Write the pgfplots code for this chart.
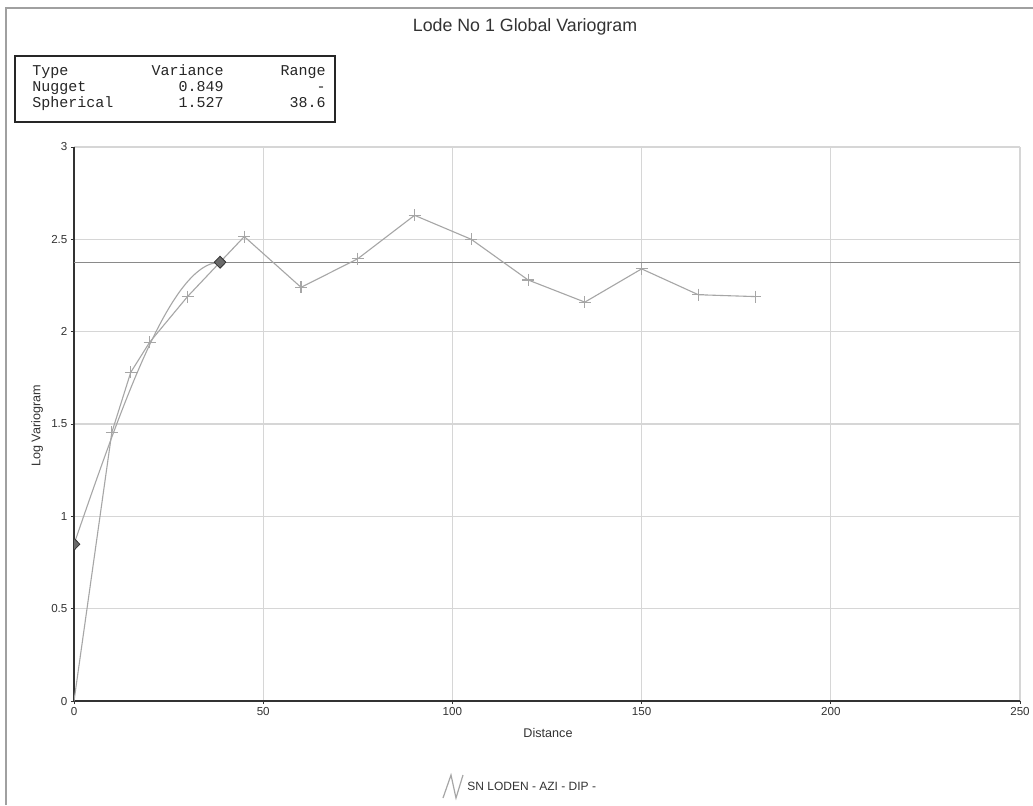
\documentclass[border=0pt]{standalone}
\usepackage{pgfplots}
\pgfplotsset{compat=1.18}
\usepackage{fontspec}
\setmainfont{Liberation Sans}
\newfontfamily\monofont{Liberation Mono}
\definecolor{gridc}{HTML}{D6D6D6}
\definecolor{datac}{HTML}{A6A6A6}
\definecolor{sillc}{HTML}{8A8A8A}
\definecolor{txtc}{HTML}{333333}
\definecolor{framec}{HTML}{A0A0A0}
\definecolor{diamc}{HTML}{6A6A6A}
\begin{document}
\begin{tikzpicture}
\useasboundingbox (-37pt,-52pt) rectangle (479.5pt,350.5pt);
\fill[white] (-37pt,-52pt) rectangle (479.5pt,350.5pt);
\begin{axis}[
  at={(0,0)}, anchor=south west,
  scale only axis, width=473pt, height=277pt,
  xmin=0, xmax=250, ymin=0, ymax=3,
  xtick={0,50,...,250}, ytick={0,0.5,...,3},
  grid=major, grid style={gridc, line width=0.55pt},
  axis x line*=bottom, axis y line*=left,
  axis line style={txtc, line width=0.9pt, -},
  tick style={txtc, line width=0.5pt},
  tick align=outside, major tick length=1.6pt,
  ticklabel style={font=\fontsize{5.8}{7}\selectfont, text=txtc},
  xticklabel style={inner sep=1.5pt},
  yticklabel style={inner sep=1.5pt},
  /pgf/number format/assume math mode=true,
  clip marker paths=true,
]
% sill
\addplot[sillc, line width=0.65pt] coordinates {(0,2.376) (250,2.376)};
% spherical model
\addplot[datac, line width=0.55pt, smooth] coordinates {
(0,0.849) (2,0.9676) (4,1.0855) (6,1.2022) (8,1.3169) (10,1.4291) (12,1.5381)
(14,1.6433) (16,1.7441) (18,1.8397) (20,1.9296) (22,2.0131) (24,2.0896)
(26,2.1585) (28,2.2191) (30,2.2707) (32,2.3128) (34,2.3447) (36,2.3658) (38.6,2.376)};
% experimental variogram
\addplot[datac, line width=0.55pt, mark=+, mark size=3pt, mark indices={2,3,...,15},
  mark options={datac, line width=0.55pt}] coordinates {
(0,0) (10,1.455) (15,1.78) (20,1.943) (30,2.19) (45,2.515) (60,2.24) (75,2.395)
(90,2.63) (105,2.5) (120,2.28) (135,2.16) (150,2.34) (165,2.2) (180,2.19)};
% model points
\addplot[only marks, mark=diamond*, mark size=3pt,
  mark options={xscale=1.3, fill=diamc, draw=black!80, line width=0.4pt}]
  coordinates {(0,0.849) (38.6,2.376)};
\end{axis}
\begin{scope}[x=0.5pt,y=-0.5pt,shift={(-37pt,350.5pt)}]
\draw[framec, line width=0.6pt] (6,805) -- (6,8) -- (1033,8);
\node[text=txtc, font=\fontsize{8.9}{10}\selectfont] at (525,27) {Lode No 1 Global Variogram};
\draw[black!85, line width=1pt] (15,56) rectangle (335,122);
\begin{scope}[every node/.style={inner sep=0pt, text=black!85, font=\monofont\fontsize{7.5}{8}\selectfont}]
\node[anchor=base west] at (32,75) {Type};
\node[anchor=base east] at (224,75) {Variance};
\node[anchor=base east] at (326,75) {Range};
\node[anchor=base west] at (32,91) {Nugget};
\node[anchor=base east] at (224,91) {0.849};
\node[anchor=base east] at (326,91) {-};
\node[anchor=base west] at (32,107) {Spherical};
\node[anchor=base east] at (224,107) {1.527};
\node[anchor=base east] at (326,107) {38.6};
\end{scope}
\node[text=txtc, font=\fontsize{6.3}{7}\selectfont, rotate=90] at (37,426) {Log Variogram};
\node[text=txtc, font=\fontsize{6.3}{7}\selectfont] at (548,733) {Distance};
\draw[datac, line width=0.6pt] (443,798) -- (451,775) -- (456,798) -- (463,775);
\node[text=txtc, font=\fontsize{6}{7}\selectfont, anchor=west, inner sep=0pt] at (467,786) {SN LODEN - AZI - DIP -};
\end{scope}
\end{tikzpicture}
\end{document}
